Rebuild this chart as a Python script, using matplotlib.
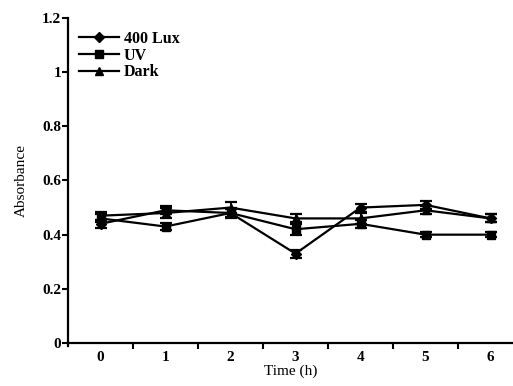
import numpy as np
import matplotlib
matplotlib.use("Agg")
import matplotlib.pyplot as plt
from matplotlib.ticker import FixedLocator

# data
hours = [0, 1, 2, 3, 4, 5, 6]
lux400 = [0.44, 0.49, 0.48, 0.33, 0.50, 0.51, 0.46]
uv = [0.46, 0.43, 0.48, 0.42, 0.44, 0.40, 0.40]
dark = [0.47, 0.48, 0.50, 0.46, 0.46, 0.49, 0.46]
err_lux = [0.015, 0.015, 0.02, 0.015, 0.015, 0.015, 0.015]
err_uv = [0.015, 0.012, 0.015, 0.02, 0.015, 0.01, 0.01]
err_dark = [0.015, 0.02, 0.02, 0.015, 0.02, 0.015, 0.015]

plt.rcParams['font.family'] = ['Liberation Serif', 'DejaVu Serif']
plt.rcParams['font.weight'] = 'bold'

fig = plt.figure(figsize=(5.13, 3.86), dpi=100)
ax = fig.add_axes([68/513, 43/386, 445/513, 325/386])

x = np.arange(len(hours))
eb1 = ax.errorbar(x, lux400, yerr=err_lux, color='black', marker='D', ms=5, lw=1.6,
	capsize=4, capthick=1.6, elinewidth=1.4, label='400 Lux')
eb2 = ax.errorbar(x, uv, yerr=err_uv, color='black', marker='s', ms=5.5, lw=1.6,
	capsize=4, capthick=1.6, elinewidth=1.4, label='UV')
eb3 = ax.errorbar(x, dark, yerr=err_dark, color='black', marker='^', ms=6, lw=1.6,
	capsize=4, capthick=1.6, elinewidth=1.4, label='Dark')

ax.set_ylim(0, 1.2)
ax.set_xlim(-0.5, 6.346)
ax.set_yticks([0, 0.2, 0.4, 0.6, 0.8, 1.0, 1.2])
ax.set_yticklabels(['0', '0.2', '0.4', '0.6', '0.8', '1', '1.2'])
ax.set_xticks(x)
ax.set_xticklabels([str(h) for h in hours])
ax.xaxis.set_minor_locator(FixedLocator([0.5, 1.5, 2.5, 3.5, 4.5, 5.5]))
ax.tick_params(axis='x', which='major', length=0, pad=6, labelsize=11)
ax.tick_params(axis='x', which='minor', length=4, width=1.5, direction='out')
ax.tick_params(axis='y', length=4, width=1.5, direction='out', pad=1, labelsize=11)

for s in ['top', 'right']:
	ax.spines[s].set_visible(False)
for s in ['left', 'bottom']:
	ax.spines[s].set_linewidth(1.6)
ax.spines['left'].set_bounds(-0.01, 1.2)

ax.set_xlabel('Time (h)', fontsize=11, labelpad=0)
ax.set_ylabel('Absorbance', fontsize=11, labelpad=10)

ax.legend([eb1[0], eb2[0], eb3[0]], ['400 Lux', 'UV', 'Dark'],
	loc='upper left', bbox_to_anchor=(0.0, 0.995), frameon=False,
	fontsize=11.5, handlelength=2.5, handletextpad=0.3, labelspacing=0.05, borderpad=0.2)

plt.savefig('out.png', dpi=100)
